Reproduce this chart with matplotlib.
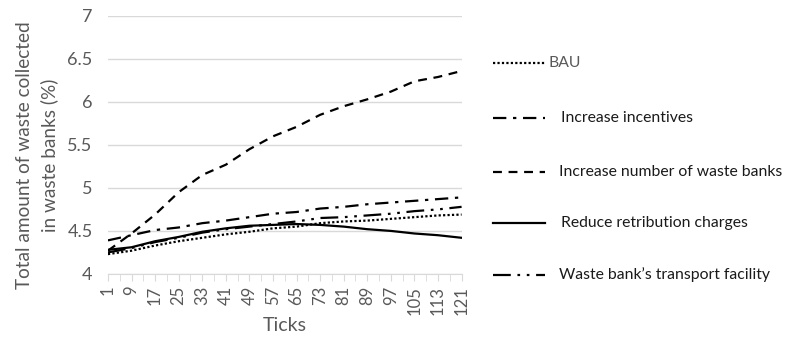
import matplotlib.pyplot as plt
from matplotlib.lines import Line2D

plt.rcParams['font.family'] = ['Lato', 'DejaVu Sans']

ticks = [1, 9, 17, 25, 33, 41, 49, 57, 65, 73, 81, 89, 97, 105, 113, 121]

bau = [4.23, 4.27, 4.33, 4.38, 4.42, 4.46, 4.49, 4.53, 4.55, 4.59, 4.61, 4.62, 4.64, 4.66, 4.68, 4.69]
incentives = [4.39, 4.45, 4.51, 4.54, 4.59, 4.62, 4.66, 4.70, 4.72, 4.76, 4.78, 4.81, 4.83, 4.85, 4.87, 4.89]
more_banks = [4.27, 4.47, 4.69, 4.95, 5.15, 5.27, 5.45, 5.60, 5.71, 5.85, 5.95, 6.03, 6.12, 6.24, 6.29, 6.36]
retribution = [4.28, 4.31, 4.38, 4.43, 4.49, 4.53, 4.56, 4.57, 4.58, 4.57, 4.55, 4.52, 4.50, 4.47, 4.45, 4.42]
transport = [4.25, 4.30, 4.37, 4.42, 4.48, 4.52, 4.55, 4.58, 4.61, 4.65, 4.66, 4.68, 4.70, 4.73, 4.75, 4.78]

labels = ['BAU', 'Increase incentives', 'Increase number of waste banks',
          'Reduce retribution charges', 'Waste bank\u2019s transport facility']
series = [bau, incentives, more_banks, retribution, transport]
styles = [(0, (1, 1)), (0, (6, 3, 1.5, 3)), (0, (4, 3)), '-', (0, (8, 3, 1.2, 3, 1.2, 3))]

grey = '#595959'

fig = plt.figure(figsize=(7.85, 3.39), dpi=100)
ax = fig.add_axes([0.1375, 0.192, 0.4505, 0.761])

for vals, ls in zip(series, styles):
    ax.plot(ticks, vals, color='black', linestyle=ls, linewidth=1.6)

ax.set_xlim(1, 121)
ax.set_ylim(4, 7)
ax.set_yticks([4, 4.5, 5, 5.5, 6, 6.5, 7])
ax.set_yticklabels(['4', '4.5', '5', '5.5', '6', '6.5', '7'])
ax.set_xticks(ticks)
ax.set_xticks(range(1, 122, 4), minor=True)
ax.set_xticklabels([str(t) for t in ticks], rotation=90)
ax.grid(axis='y', color='#d9d9d9', linewidth=1)
ax.set_axisbelow(True)
for s in ['top', 'right', 'left']:
    ax.spines[s].set_visible(False)
ax.spines['bottom'].set_color('#d9d9d9')
ax.tick_params(axis='y', length=0, labelsize=13, labelcolor=grey, pad=11)
ax.tick_params(axis='x', which='both', length=5, color='#d9d9d9', labelsize=12, labelcolor=grey, direction='out')
ax.set_xlabel('Ticks', fontsize=14, color=grey, labelpad=2)
ax.set_ylabel('Total amount of waste collected\nin waste banks (%)', fontsize=13.7, color=grey, linespacing=1.45)
ax.yaxis.set_label_coords(-0.142, 0.46)

# legend drawn at the right side
leg_y = [63, 118, 172, 223, 275]
txt_x = [549, 561, 559, 561, 559]
for lab, ls, y, tx in zip(labels, styles, leg_y, txt_x):
    fy = 1 - y / 339
    fig.add_artist(Line2D([493 / 785, 545 / 785], [fy, fy], transform=fig.transFigure,
                          color='black', linestyle=ls, linewidth=1.6))
    fig.text(tx / 785, fy, lab, fontsize=11.3, va='center', ha='left',
             color=grey if lab == 'BAU' else '#1a1a1a')

fig.savefig('out.png', dpi=100)
